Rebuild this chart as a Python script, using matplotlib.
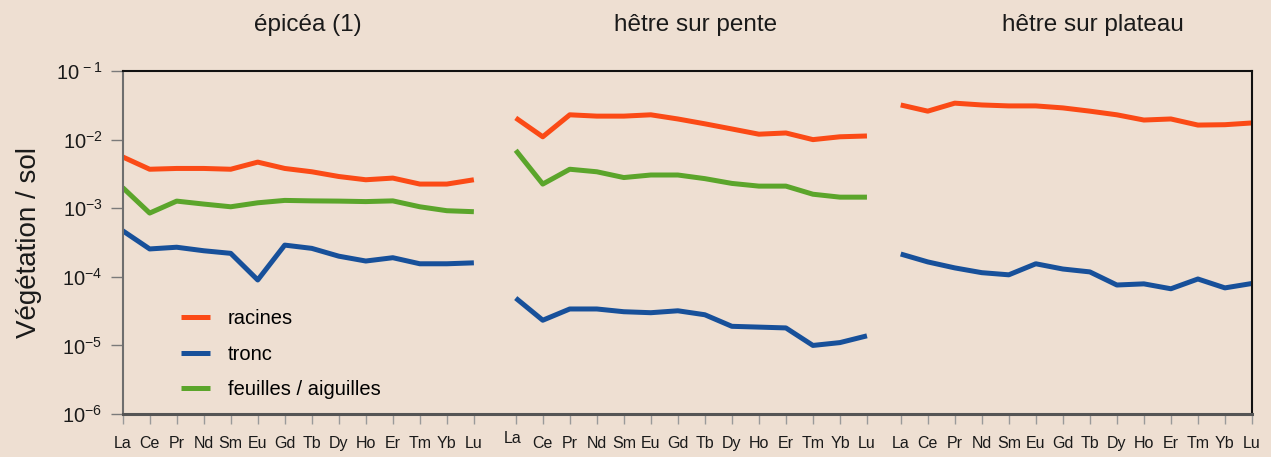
import numpy as np
import matplotlib
matplotlib.use('Agg')
import matplotlib.pyplot as plt
import matplotlib.transforms as mtransforms

plt.rcParams['font.family'] = ['Liberation Sans', 'DejaVu Sans']
plt.rcParams['mathtext.fontset'] = 'custom'
plt.rcParams['mathtext.rm'] = 'Liberation Sans'
plt.rcParams['mathtext.it'] = 'Liberation Sans'
plt.rcParams['mathtext.default'] = 'regular'

# terres rares, rapport végétation / sol
elements = ['La', 'Ce', 'Pr', 'Nd', 'Sm', 'Eu', 'Gd', 'Tb', 'Dy', 'Ho', 'Er', 'Tm', 'Yb', 'Lu']
sites = ['épicéa (1)', 'hêtre sur pente', 'hêtre sur plateau']

epicea_racines = [5.6e-3, 3.7e-3, 3.8e-3, 3.8e-3, 3.7e-3, 4.7e-3, 3.8e-3, 3.4e-3, 2.9e-3, 2.6e-3, 2.75e-3, 2.25e-3, 2.25e-3, 2.6e-3]
epicea_tronc = [4.7e-4, 2.55e-4, 2.7e-4, 2.4e-4, 2.2e-4, 9.0e-5, 2.9e-4, 2.6e-4, 2.0e-4, 1.7e-4, 1.9e-4, 1.55e-4, 1.55e-4, 1.6e-4]
epicea_feuilles = [2.0e-3, 8.5e-4, 1.27e-3, 1.15e-3, 1.05e-3, 1.2e-3, 1.3e-3, 1.28e-3, 1.27e-3, 1.25e-3, 1.28e-3, 1.05e-3, 9.2e-4, 8.9e-4]

pente_racines = [2.07e-2, 1.1e-2, 2.3e-2, 2.2e-2, 2.2e-2, 2.3e-2, 2.0e-2, 1.7e-2, 1.43e-2, 1.2e-2, 1.25e-2, 1.0e-2, 1.1e-2, 1.13e-2]
pente_tronc = [4.9e-5, 2.33e-5, 3.4e-5, 3.4e-5, 3.1e-5, 3.0e-5, 3.2e-5, 2.8e-5, 1.9e-5, 1.85e-5, 1.8e-5, 1.0e-5, 1.1e-5, 1.38e-5]
pente_feuilles = [7.0e-3, 2.25e-3, 3.7e-3, 3.4e-3, 2.8e-3, 3.05e-3, 3.05e-3, 2.7e-3, 2.3e-3, 2.1e-3, 2.1e-3, 1.6e-3, 1.45e-3, 1.45e-3]

plateau_racines = [3.2e-2, 2.6e-2, 3.4e-2, 3.2e-2, 3.1e-2, 3.1e-2, 2.9e-2, 2.6e-2, 2.3e-2, 1.93e-2, 2.0e-2, 1.63e-2, 1.65e-2, 1.75e-2]
plateau_tronc = [2.15e-4, 1.65e-4, 1.35e-4, 1.15e-4, 1.07e-4, 1.55e-4, 1.3e-4, 1.18e-4, 7.6e-5, 7.9e-5, 6.7e-5, 9.3e-5, 6.9e-5, 8.0e-5]

racines = [epicea_racines, pente_racines, plateau_racines]
tronc = [epicea_tronc, pente_tronc, plateau_tronc]
feuilles = [epicea_feuilles, pente_feuilles, None]

c_racines = '#fb4a16'
c_tronc = '#17509a'
c_feuilles = '#5ba52b'
bg = '#eedfd2'

offsets = [0, 14.55, 28.8]
title_x = [6.85, 21.2, 35.9]

fig = plt.figure(figsize=(12.71, 4.57), dpi=100, facecolor=bg)
ax = fig.add_axes([0.0965, 0.094, 0.8885, 0.7506])
ax.set_facecolor(bg)

lw = 3.6
xs = np.arange(len(elements))
for k in range(3):
    x = xs + offsets[k]
    ax.plot(x, racines[k], color=c_racines, lw=lw, solid_joinstyle='round', solid_capstyle='butt',
            label='racines' if k == 0 else None)
    ax.plot(x, tronc[k], color=c_tronc, lw=lw, solid_joinstyle='round', solid_capstyle='butt',
            label='tronc' if k == 0 else None)
    if feuilles[k] is not None:
        ax.plot(x, feuilles[k], color=c_feuilles, lw=lw, solid_joinstyle='round', solid_capstyle='butt',
                label='feuilles / aiguilles' if k == 0 else None)
    ax.text(title_x[k], 1.133, sites[k], transform=ax.get_xaxis_transform(),
            ha='center', va='center', fontsize=17.5, color='#1a1a1a')

ax.set_yscale('log')
ax.set_ylim(1e-6, 1e-1)
ax.set_xlim(0, 41.8)

ax.set_yticks([1e-6, 1e-5, 1e-4, 1e-3, 1e-2, 1e-1])
ax.set_yticklabels([r'$10^{-6}$', r'$10^{-5}$', r'$10^{-4}$', r'$10^{-3}$', r'$10^{-2}$', r'$10^{\,-1}$'],
                   fontsize=14.5, color='#1a1a1a')
ax.yaxis.set_minor_locator(matplotlib.ticker.NullLocator())
ax.tick_params(axis='y', length=8.5, width=1.0, color='#7a7a7a', pad=6)

xt = np.concatenate([xs + o for o in offsets])
ax.set_xticks(xt)
ax.set_xticklabels(elements * 3, fontsize=11.5, color='#1a1a1a')
ax.tick_params(axis='x', length=7, width=1.0, color='#9a9a9a', pad=8.5)

# "La" du deuxième bloc légèrement décalé
lab = ax.get_xticklabels()[14]
lab.set_transform(lab.get_transform() + mtransforms.ScaledTranslation(-2 / 72, 3 / 72, fig.dpi_scale_trans))

ax.spines['left'].set_color('#6e6e6e')
ax.spines['left'].set_linewidth(1.5)
ax.spines['bottom'].set_color('#555555')
ax.spines['bottom'].set_linewidth(2.2)
ax.spines['top'].set_color('#111111')
ax.spines['top'].set_linewidth(1.5)
ax.spines['right'].set_color('#111111')
ax.spines['right'].set_linewidth(1.5)

ax.set_ylabel('Végétation / sol', fontsize=20, color='#1a1a1a', labelpad=10)

ax.legend(loc='upper left', bbox_to_anchor=(0.052, 0.305), frameon=False, fontsize=14.5,
          handlelength=1.4, handletextpad=0.9, labelspacing=0.82, borderpad=0, borderaxespad=0)

fig.savefig('out.png', dpi=100, facecolor=bg)
